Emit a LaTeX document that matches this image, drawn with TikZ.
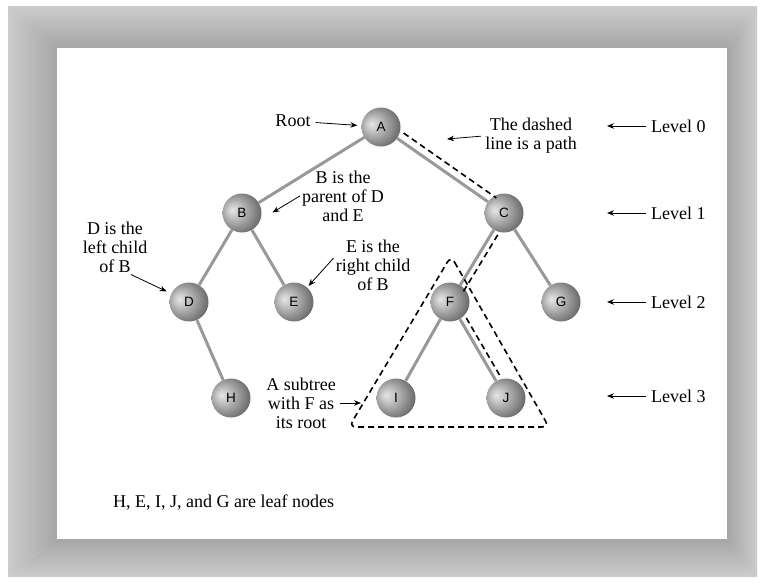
\documentclass[tikz,border=0pt]{standalone}
\usepackage{fontspec}
\setmainfont{Liberation Serif}
\newfontfamily\ballfont{Liberation Sans}
\usepackage{tikz}
\usetikzlibrary{positioning, arrows.meta, calc}

\definecolor{framelight}{HTML}{CCCCCC}
\definecolor{framedark}{HTML}{A6A6A6}
\definecolor{edgegray}{HTML}{999999}
\pgfdeclareradialshading{greyball}{\pgfqpoint{-13bp}{4bp}}{%
  color(0bp)=(black!10); color(8bp)=(black!22); color(20bp)=(black!42);
  color(32bp)=(black!62); color(40bp)=(black!70); color(50bp)=(black!72)}

\begin{document}
\begin{tikzpicture}[x=1pt, y=-1pt, >=Stealth,
    ball/.style={circle, minimum size=39pt, inner sep=0pt, shade, shading=greyball,
      font=\ballfont\fontsize{13.5}{15}\selectfont},
    branch/.style={draw=edgegray, line width=3pt},
    pathline/.style={draw, line width=1.6pt, dash pattern=on 6pt off 4pt},
    note/.style={align=center, inner sep=2pt, font=\fontsize{18}{19}\selectfont},
    ptr/.style={->, line width=0.8pt, >={Stealth[length=7pt, width=5.5pt]}}]
  \useasboundingbox (0,0) rectangle (764,582);

  % frame round the white panel
  \shade[top color=framelight, bottom color=framedark] (8,6) -- (757,6) -- (727,48) -- (57,48) -- cycle;
  \shade[top color=framedark, bottom color=framelight] (57,539) -- (727,539) -- (757,577) -- (8,577) -- cycle;
  \shade[left color=framelight, right color=framedark] (8,6) -- (57,48) -- (57,539) -- (8,577) -- cycle;
  \shade[left color=framedark, right color=framelight] (727,48) -- (757,6) -- (757,577) -- (727,539) -- cycle;
  \fill[white] (57,48) rectangle (727,539);

  % the tree
  \node[ball] (A) at (381,127) {A};
  \node[ball] (B) at (242,213) {B};
  \node[ball] (C) at (504,213) {C};
  \node[ball] (D) at (189,302) {D};
  \node[ball] (E) at (294,302) {E};
  \node[ball] (F) at (450,302) {F};
  \node[ball] (G) at (561,302) {G};
  \node[ball] (H) at (231,398) {H};
  \node[ball] (I) at (396,398) {I};
  \node[ball] (J) at (506,398) {J};
  \foreach \p/\c in {A/B, A/C, B/D, B/E, C/F, C/G, D/H, F/I, F/J}
    \draw[branch] (\p) -- (\c);

  % path A-C-F-J and the subtree
  \draw[pathline, shorten <=22pt, shorten >=15pt] ($(A)!8pt!90:(C)$) -- ($(C)!8pt!-90:(A)$);
  \draw[pathline, shorten <=22pt, shorten >=14pt] ($(C)!6pt!90:(F)$) -- ($(F)!6pt!-90:(C)$);
  \draw[pathline, shorten <=22pt, shorten >=22pt] ($(F)!6pt!90:(J)$) -- ($(J)!6pt!-90:(F)$);
  \draw[pathline, rounded corners=7pt] (451,256) -- (549,427) -- (349,427) -- cycle;

  % notes
  \node[note] (rootnote) at (293,121) {Root};
  \draw[ptr, shorten <=3pt, shorten >=4pt] (rootnote) -- (A);
  \node[note] (dashnote) at (531,136) {The dashed\\line is a path};
  \coordinate (pathtip) at (447,139);
  \draw[ptr, shorten <=2pt] (dashnote.west) -- (pathtip);
  \node[note] (bnote) at (343,196) {B is the\\parent of D\\and E};
  \draw[ptr, shorten >=14pt] (bnote.west) -- (B.-20);
  \node[note] (dnote) at (115,247) {D is the\\left child\\of B};
  \draw[ptr, shorten >=5pt] (dnote.-60) -- (D);
  \node[note] (enote) at (373,265) {E is the\\right child\\of B};
  \draw[ptr, shorten >=2pt] (enote.170) -- (E);
  \node[note] (subnote) at (301,403) {A subtree\\with F as\\its root};
  \coordinate (subtip) at (361,403);
  \draw[ptr, shorten <=2pt] (subnote) -- (subtip);

  % levels
  \foreach \i/\y in {0/126, 1/213, 2/302, 3/396} {
    \node[note, anchor=west] (level\i) at (649,\y) {Level \i};
    \coordinate (tip\i) at (607,\y);
    \draw[ptr, shorten <=3pt] (level\i) -- (tip\i);
  }

  \node[note, anchor=west] (leafnote) at (111,503) {H, E, I, J, and G are leaf nodes};
\end{tikzpicture}
\end{document}
